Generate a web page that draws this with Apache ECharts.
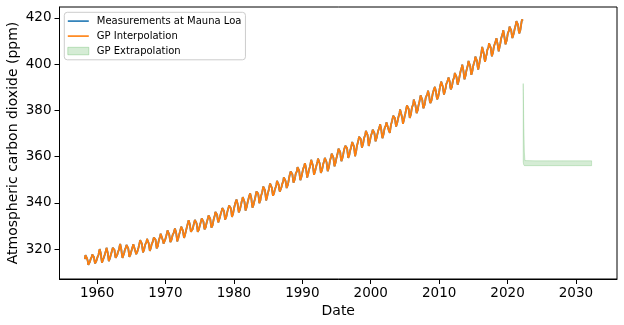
<!DOCTYPE html>
<html>
<head>
<meta charset="utf-8">
<script src="https://cdn.jsdelivr.net/npm/echarts@6/dist/echarts.min.js"></script>
<style>
  html, body { margin: 0; padding: 0; background: #ffffff; }
  #chart { width: 624px; height: 325px; }
</style>
</head>
<body>
<div id="chart"></div>
<script>
// Monthly mean CO2 at Mauna Loa (ppm), one row per year, first sample March 1958.
const FIRST_YEAR = 1958;
const FIRST_MONTH = 3;
const co2Ppm = [
  315.71, 317.45, 317.51, 317.24, 315.86, 314.93, 313.20, 312.43, 313.33, 314.67,
  315.62, 316.38, 316.71, 317.72, 318.29, 318.15, 316.54, 314.80, 313.84, 313.26, 314.80, 315.58,
  316.43, 316.97, 317.58, 319.02, 320.03, 319.59, 318.18, 315.91, 314.16, 313.83, 315.00, 316.19,
  316.93, 317.70, 318.54, 319.48, 320.58, 319.77, 318.57, 316.79, 314.80, 315.38, 316.10, 317.01,
  317.94, 318.55, 319.68, 320.57, 321.02, 320.62, 319.61, 317.40, 316.25, 315.42, 316.69, 317.70,
  318.74, 319.07, 319.86, 321.38, 322.25, 321.48, 319.74, 317.77, 316.21, 315.99, 317.07, 318.35,
  319.57, 320.01, 320.74, 321.84, 322.26, 321.89, 320.44, 318.70, 316.70, 316.87, 317.68, 318.71,
  319.44, 320.44, 320.89, 322.13, 322.16, 321.87, 321.39, 318.81, 317.81, 317.30, 318.87, 319.42,
  320.62, 321.59, 322.39, 323.87, 324.01, 323.75, 322.39, 320.37, 318.64, 318.10, 319.79, 321.08,
  322.07, 322.50, 323.04, 324.42, 325.00, 324.09, 322.54, 320.92, 319.25, 319.39, 320.73, 321.96,
  322.57, 323.15, 323.89, 325.02, 325.57, 325.36, 324.14, 322.11, 320.33, 320.25, 321.32, 322.89,
  324.00, 324.42, 325.63, 326.66, 327.38, 326.70, 325.89, 323.67, 322.38, 321.78, 322.85, 324.12,
  325.06, 325.98, 326.93, 328.13, 328.08, 327.67, 326.34, 324.69, 323.10, 323.06, 324.01, 325.13,
  326.17, 326.68, 327.18, 327.78, 328.92, 328.57, 327.34, 325.46, 323.36, 323.57, 324.80, 326.01,
  326.77, 327.63, 327.75, 329.72, 330.07, 329.09, 328.04, 326.32, 324.84, 325.20, 326.50, 327.55,
  328.55, 329.56, 330.30, 331.50, 332.48, 332.07, 330.87, 329.31, 327.51, 327.18, 328.16, 328.64,
  329.35, 330.71, 331.48, 332.65, 333.09, 332.25, 331.18, 329.40, 327.43, 327.37, 328.46, 329.57,
  330.40, 331.40, 332.04, 333.31, 333.96, 333.59, 331.91, 330.06, 328.56, 328.34, 329.49, 330.76,
  331.75, 332.56, 333.50, 334.58, 334.87, 334.34, 333.05, 330.94, 329.30, 328.94, 330.31, 331.68,
  332.93, 333.42, 334.70, 336.07, 336.75, 336.27, 334.92, 332.75, 331.59, 331.16, 332.40, 333.85,
  334.97, 335.39, 336.64, 337.76, 338.01, 337.89, 336.54, 334.68, 332.76, 332.55, 333.92, 334.95,
  336.23, 336.76, 337.96, 338.88, 339.47, 339.29, 337.73, 336.09, 333.92, 333.86, 335.29, 336.73,
  338.01, 338.36, 340.08, 340.77, 341.46, 341.17, 339.56, 337.60, 335.88, 336.02, 337.10, 338.21,
  339.24, 340.48, 341.38, 342.51, 342.91, 342.25, 340.49, 338.43, 336.69, 336.85, 338.36, 339.61,
  340.75, 341.61, 342.70, 343.56, 344.13, 343.35, 342.06, 339.82, 337.97, 337.86, 339.26, 340.49,
  341.37, 342.52, 343.10, 344.94, 345.75, 345.32, 343.99, 342.39, 339.86, 339.99, 341.16, 342.99,
  343.70, 344.51, 345.28, 347.08, 347.43, 346.79, 345.40, 343.28, 341.07, 341.35, 342.98, 344.22,
  344.97, 346.00, 347.43, 348.35, 348.93, 348.25, 346.56, 344.67, 343.09, 342.80, 344.24, 345.56,
  346.29, 346.96, 347.86, 349.55, 350.21, 349.54, 347.94, 345.91, 344.86, 344.17, 345.66, 346.90,
  348.02, 348.47, 349.42, 350.99, 351.84, 351.25, 349.52, 348.10, 346.44, 346.36, 347.81, 348.96,
  350.43, 351.72, 352.22, 353.59, 354.22, 353.79, 352.39, 350.44, 348.72, 348.88, 350.07, 351.34,
  352.76, 353.07, 353.68, 355.42, 355.67, 355.12, 353.90, 351.67, 349.80, 349.99, 351.30, 352.53,
  353.66, 354.70, 355.39, 356.20, 357.16, 356.22, 354.82, 352.91, 350.96, 351.18, 352.83, 354.21,
  354.72, 355.75, 357.16, 358.60, 359.34, 358.24, 356.17, 354.03, 352.16, 352.21, 353.75, 354.99,
  355.98, 356.72, 357.81, 359.15, 359.66, 359.25, 357.02, 355.00, 353.01, 353.31, 354.16, 355.40,
  356.70, 357.16, 358.38, 359.46, 360.28, 359.60, 357.57, 355.52, 353.69, 353.99, 355.34, 356.80,
  358.37, 358.91, 359.97, 361.26, 361.69, 360.94, 359.55, 357.49, 355.84, 356.00, 357.58, 359.04,
  359.97, 361.00, 361.64, 363.45, 363.79, 363.26, 361.90, 359.46, 358.06, 357.75, 359.56, 360.70,
  362.05, 363.25, 364.03, 364.72, 365.41, 364.97, 363.65, 361.49, 359.46, 359.60, 360.76, 362.33,
  363.18, 364.00, 364.57, 366.35, 366.79, 365.62, 364.47, 362.51, 360.19, 360.77, 362.43, 364.28,
  365.32, 366.15, 367.31, 368.61, 369.29, 368.87, 367.64, 365.77, 363.90, 364.23, 365.46, 366.97,
  368.15, 368.87, 369.59, 371.14, 371.00, 370.35, 369.27, 366.94, 364.63, 365.12, 366.67, 368.01,
  369.14, 369.46, 370.52, 371.66, 371.82, 371.70, 370.12, 368.12, 366.62, 366.73, 368.29, 369.53,
  370.28, 371.50, 372.12, 372.87, 374.02, 373.30, 371.62, 369.55, 367.96, 368.09, 369.68, 371.24,
  372.44, 373.08, 373.52, 374.85, 375.55, 375.40, 374.02, 371.48, 370.70, 370.25, 372.08, 373.78,
  374.68, 375.62, 376.11, 377.65, 378.35, 378.13, 376.61, 374.48, 373.04, 373.10, 374.67, 375.97,
  377.03, 377.87, 378.88, 380.42, 380.62, 379.70, 377.43, 376.32, 374.19, 374.47, 376.15, 377.51,
  378.43, 379.70, 380.92, 382.18, 382.45, 382.14, 380.60, 378.64, 376.73, 376.84, 378.29, 380.06,
  381.40, 382.20, 382.66, 384.69, 384.94, 384.01, 382.15, 380.33, 378.81, 379.06, 380.17, 381.85,
  382.89, 383.90, 384.58, 386.50, 386.56, 386.10, 384.50, 381.99, 380.96, 381.12, 382.45, 383.95,
  385.52, 385.82, 386.03, 387.21, 388.54, 387.76, 386.36, 384.09, 383.18, 382.99, 384.19, 385.56,
  386.94, 387.48, 388.82, 389.55, 390.14, 389.48, 388.03, 386.11, 384.74, 384.43, 386.02, 387.42,
  388.71, 390.20, 391.17, 392.46, 393.00, 392.15, 390.20, 388.35, 386.85, 387.24, 388.67, 389.79,
  391.33, 391.86, 392.60, 393.25, 394.19, 393.74, 392.51, 390.13, 389.08, 389.00, 390.28, 391.86,
  393.12, 393.86, 394.40, 396.18, 396.74, 395.71, 394.36, 392.39, 391.11, 391.05, 392.98, 394.34,
  395.55, 396.80, 397.43, 398.41, 399.78, 398.60, 397.32, 395.20, 393.45, 393.70, 395.16, 396.84,
  397.85, 398.01, 399.77, 401.38, 401.78, 401.25, 399.10, 397.03, 395.38, 396.03, 397.28, 398.91,
  399.98, 400.28, 401.54, 403.28, 403.96, 402.80, 401.31, 398.93, 397.63, 398.29, 400.16, 401.85,
  402.52, 404.04, 404.83, 407.42, 407.70, 406.81, 404.39, 402.25, 401.03, 401.57, 403.53, 404.42,
  406.17, 406.46, 407.22, 409.04, 409.69, 408.88, 407.12, 405.13, 403.37, 403.63, 405.12, 406.81,
  407.96, 408.32, 409.41, 410.24, 411.24, 410.79, 408.71, 406.99, 405.51, 405.95, 408.02, 409.07,
  410.83, 411.75, 411.97, 413.33, 414.64, 413.93, 411.74, 409.95, 408.54, 408.53, 410.27, 411.76,
  413.40, 414.11, 414.51, 416.21, 417.07, 416.39, 414.47, 412.55, 411.29, 411.28, 412.89, 414.02,
  415.23, 416.20, 417.16, 418.56, 419.13, 418.94, 416.96, 414.47, 413.30, 413.93, 414.82, 416.57,
  418.19, 419.28, 418.81
];

// Forecast band of the Gaussian process beyond the last measurement (decimal years, ppm).
const extrapDates = [2022.29, 2022.37, 2022.46, 2022.54, 2024.0, 2026.0, 2028.0, 2030.0, 2032.29];
const extrapLower = [357.6, 356.4, 356.1, 356.1, 356.1, 356.1, 356.1, 356.1, 356.1];
const extrapUpper = [391.6, 375.0, 362.0, 358.3, 358.2, 358.2, 358.2, 358.2, 358.2];

const xTicks = [1960, 1970, 1980, 1990, 2000, 2010, 2020, 2030];
const yTicks = [320, 340, 360, 380, 400, 420];

const seriesNames = ['Measurements at Mauna Loa', 'GP Interpolation', 'GP Extrapolation'];

// Each monthly sample sits at the middle of its month on a decimal-year axis.
const monthPoints = co2Ppm.map((v, i) => {
  const m = FIRST_MONTH - 1 + i;
  const year = FIRST_YEAR + Math.floor(m / 12) + ((m % 12) + 0.5) / 12;
  return [year, v];
});
const bandPoints = extrapDates.map((t, i) => [t, extrapLower[i], extrapUpper[i]]);

const FONT = 'DejaVu Sans';
const BAND_FILL = 'rgba(44,160,44,0.2)';
// Legend handle for the line series: a thin horizontal stroke centred in a 21 x 7.5 box.
const LINE_HANDLE = 'path://M0,0M21,7.5M0,3L21,3L21,4.6L0,4.6Z';

const chart = echarts.init(document.getElementById('chart'), null, { renderer: 'canvas' });
chart.setOption({
  animation: false,
  backgroundColor: '#ffffff',
  textStyle: { fontFamily: FONT },
  grid: {
    left: 59.5, right: 7, top: 7, bottom: 46,
    outerBoundsMode: 'none',
    containLabel: false,
    show: true, borderColor: '#000000', borderWidth: 1, backgroundColor: 'transparent'
  },
  legend: {
    orient: 'vertical',
    left: 64.3, top: 12.3,
    padding: [3, 4, 3, 3],
    itemGap: 3.5,
    itemWidth: 21, itemHeight: 7.5,
    backgroundColor: 'rgba(255,255,255,0.8)',
    borderColor: '#cccccc', borderWidth: 1, borderRadius: 3,
    textStyle: { fontFamily: FONT, fontSize: 10, color: '#000000', lineHeight: 11.5, padding: [0, 0, 0, 3] },
    data: [
      { name: seriesNames[0], icon: LINE_HANDLE, itemStyle: { color: '#1f77b4' } },
      { name: seriesNames[1], icon: LINE_HANDLE, itemStyle: { color: '#ff7f0e' } },
      { name: seriesNames[2], icon: 'rect', itemStyle: { color: BAND_FILL, borderColor: 'rgba(44,160,44,0.25)', borderWidth: 1 } }
    ]
  },
  xAxis: {
    type: 'value',
    min: 1954.5, max: 2036.0,
    name: 'Date', nameLocation: 'middle', nameGap: 25,
    nameMoveOverlap: false,
    nameTextStyle: { fontFamily: FONT, fontSize: 14, color: '#000000' },
    splitLine: { show: false },
    axisLine: { show: true, onZero: false, lineStyle: { color: '#000000', width: 1 } },
    axisTick: { show: true, customValues: xTicks, length: 5, inside: false, lineStyle: { color: '#000000', width: 1 } },
    axisLabel: {
      customValues: xTicks, fontFamily: FONT, fontSize: 13.5, color: '#000000', margin: 7,
      formatter: v => String(v)
    }
  },
  yAxis: {
    type: 'value',
    min: 307.1, max: 424.7,
    name: 'Atmospheric carbon dioxide (ppm)', nameLocation: 'middle', nameGap: 39,
    nameMoveOverlap: false,
    nameTextStyle: { fontFamily: FONT, fontSize: 14, color: '#000000' },
    splitLine: { show: false },
    axisLine: { show: true, onZero: false, lineStyle: { color: '#000000', width: 1 } },
    axisTick: { show: true, customValues: yTicks, length: 5, inside: false, lineStyle: { color: '#000000', width: 1 } },
    axisLabel: {
      customValues: yTicks, fontFamily: FONT, fontSize: 13.5, color: '#000000', margin: 8,
      formatter: v => String(v)
    }
  },
  series: [
    {
      name: seriesNames[0],
      type: 'line',
      data: monthPoints,
      symbol: 'none',
      color: '#1f77b4',
      lineStyle: { color: '#1f77b4', width: 1.8 },
      z: 2
    },
    {
      // The GP mean at the measurement dates follows the monthly record.
      name: seriesNames[1],
      type: 'line',
      data: monthPoints,
      symbol: 'none',
      color: '#ff7f0e',
      lineStyle: { color: '#ff7f0e', width: 1.8 },
      z: 3
    },
    {
      name: seriesNames[2],
      type: 'custom',
      data: bandPoints,
      encode: { x: 0, y: [1, 2] },
      itemStyle: { color: BAND_FILL },
      z: 1,
      renderItem: (params, api) => {
        if (params.dataIndex !== 0) return null;
        const upper = bandPoints.map(p => api.coord([p[0], p[2]]));
        const lower = bandPoints.map(p => api.coord([p[0], p[1]])).reverse();
        return {
          type: 'polygon',
          shape: { points: upper.concat(lower) },
          style: { fill: BAND_FILL, stroke: 'rgba(44,160,44,0.2)', lineWidth: 1 }
        };
      }
    }
  ]
});
</script>
</body>
</html>
